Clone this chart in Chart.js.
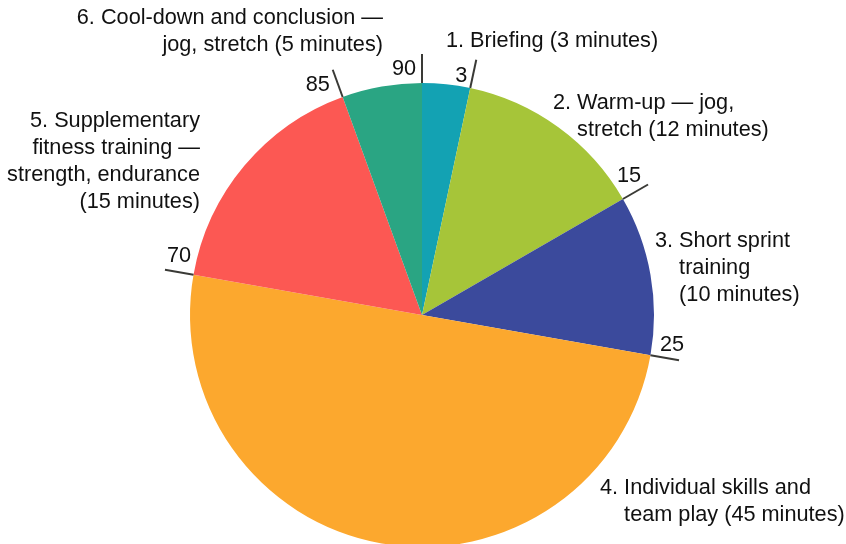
<!DOCTYPE html>
<html>
<head>
<meta charset="utf-8">
<script src="https://cdn.jsdelivr.net/npm/chart.js@4"></script>
<style>
  html, body { margin: 0; padding: 0; background: #fff; overflow: hidden; }
  #wrap { width: 846px; height: 600px; }
</style>
</head>
<body>
<div id="wrap"><canvas id="c"></canvas></div>
<script>
// Training session split, minutes per part
const labels = [
  ['1. Briefing (3 minutes)'],
  ['2. Warm-up — jog,', 'stretch (12 minutes)'],
  ['3. Short sprint', 'training', '(10 minutes)'],
  ['4. Individual skills and', 'team play (45 minutes)'],
  ['5. Supplementary', 'fitness training —', 'strength, endurance', '(15 minutes)'],
  ['6. Cool-down and conclusion —', 'jog, stretch (5 minutes)'],
];
const minutes = [3, 12, 10, 45, 15, 5];
const tickLabels = ['90', '3', '15', '25', '70', '85'];
const colors = ['#13a2b3', '#a6c539', '#3b4a9c', '#fca82e', '#fc5853', '#2aa583'];

// label placement, relative to pie centre / tick tip
const catPos = [
  { dx: 24, dy: -274, align: 'left' },
  { dx: 131, dy: -212, align: 'left' },
  { dx: 233, dy: -74, align: 'left' },
  { dx: 178, dy: 173, align: 'left' },
  { dx: -222, dy: -194, align: 'right' },
  { dx: -39, dy: -297, align: 'right' },
];
const tickOff = [[-18, 15], [-15, 16], [-19, -8], [-7, -15], [14, -14], [-15, 15]];

const FONT = '21.7px "Liberation Sans", Arial, sans-serif';
const LINE_H = 27;
const TICK_LEN = 29;

const labelPlugin = {
  id: 'pieLabels',
  afterDraw(chart) {
    const ctx = chart.ctx;
    const arcs = chart.getDatasetMeta(0).data;
    ctx.save();
    ctx.font = FONT;
    ctx.fillStyle = '#111';
    ctx.textBaseline = 'middle';

    // boundary ticks with cumulative values
    arcs.forEach((arc, i) => {
      const { x, y, startAngle, outerRadius } = arc.getProps(['x', 'y', 'startAngle', 'outerRadius'], true);
      const cos = Math.cos(startAngle), sin = Math.sin(startAngle);
      const x0 = x + cos * outerRadius, y0 = y + sin * outerRadius;
      const x1 = x + cos * (outerRadius + TICK_LEN), y1 = y + sin * (outerRadius + TICK_LEN);
      ctx.strokeStyle = '#3a3a36';
      ctx.lineWidth = 2;
      ctx.beginPath();
      ctx.moveTo(x0, y0);
      ctx.lineTo(x1, y1);
      ctx.stroke();
      ctx.textAlign = 'center';
      ctx.fillText(tickLabels[i], x1 + tickOff[i][0], y1 + tickOff[i][1]);
    });

    // category labels
    const cx = arcs[0].x, cy = arcs[0].y;
    labels.forEach((lines, i) => {
      const p = catPos[i];
      const bx = cx + p.dx, by = cy + p.dy;
      ctx.textAlign = p.align;
      if (p.align === 'left') {
        // hanging indent after the number
        const indent = ctx.measureText(lines[0].split(' ')[0] + ' ').width;
        lines.forEach((t, j) => ctx.fillText(t, bx + (j ? indent : 0), by + j * LINE_H));
      } else {
        lines.forEach((t, j) => ctx.fillText(t, bx, by + j * LINE_H));
      }
    });
    ctx.restore();
  },
};

new Chart(document.getElementById('c'), {
  type: 'pie',
  data: {
    labels: labels.map(l => l.join(' ')),
    datasets: [{
      data: minutes,
      backgroundColor: colors,
      borderWidth: 0,
      hoverOffset: 0,
    }],
  },
  options: {
    responsive: true,
    maintainAspectRatio: false,
    animation: false,
    events: [],
    layout: { padding: { top: 83, bottom: 53, left: 190, right: 192 } },
    plugins: {
      legend: { display: false },
      tooltip: { enabled: false },
    },
  },
  plugins: [labelPlugin],
});
</script>
</body>
</html>
